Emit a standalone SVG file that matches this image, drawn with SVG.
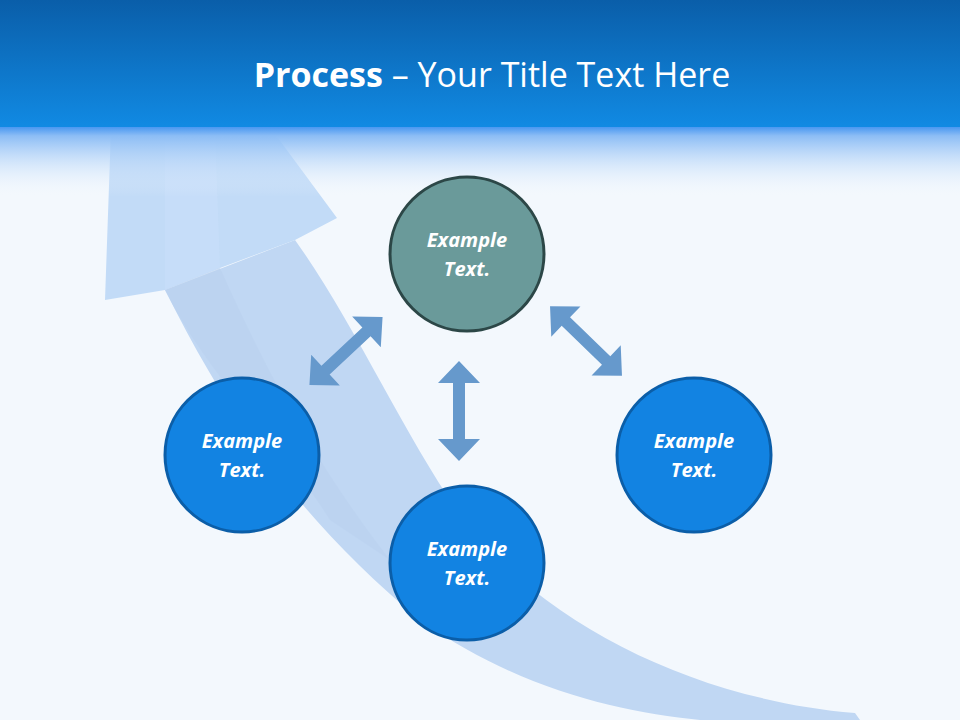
<svg xmlns="http://www.w3.org/2000/svg" width="960" height="720" viewBox="0 0 960 720">
<defs>
<linearGradient id="hdr" x1="0" y1="0" x2="0" y2="1">
<stop offset="0" stop-color="#0a5ea9"/><stop offset="1" stop-color="#118ae3"/>
</linearGradient>
<linearGradient id="fade" x1="0" y1="0" x2="0" y2="1">
<stop offset="0" stop-color="#3a8ff0"/><stop offset="0.15" stop-color="#8cbdf5"/><stop offset="1" stop-color="#f3f8fd" stop-opacity="0"/>
</linearGradient>
<path id="dbl" d="M-50,0 L-28,-21 L-28,-6 L28,-6 L28,-21 L50,0 L28,21 L28,6 L-28,6 L-28,21 Z"/>
<style>
.node circle{stroke-width:3}
.blue{fill:#1283e2;stroke:#0b5ea8}
.teal{fill:#6a9a9a;stroke:#2c4747}
.lbl{font-family:"Open Sans","Liberation Sans",sans-serif;font-weight:bold;font-style:italic;font-size:20px;fill:#fff;text-anchor:middle}
.conn use{fill:#6699cc}
</style>
</defs>
<rect width="960" height="720" fill="#f3f8fd"/>
<g id="bigarrow">
<path d="M165,290 C230,420 300,520 420,620 C520,690 620,712 700,720 L860,720 L855,713 C700,700 560,630 480,540 C420,470 360,330 295,240 Z" fill="#c0d7f3"/>
<path d="M105,300 L112,100 L250,100 L337,218 L295,240 L220,268 L165,290 Z" fill="#c2dbf7"/>
<path d="M165,130 L215,130 L220,268 L165,290 Z" fill="#c8defa" opacity="0.7"/>
<path d="M165,290 L220,268 C270,380 320,470 390,560 L330,520 C280,440 210,380 165,290 Z" fill="#b9d0ee" opacity="0.6"/>
</g>
<rect x="0" y="125" width="960" height="72" fill="url(#fade)"/>
<rect x="0" y="0" width="960" height="127" fill="url(#hdr)"/>
<text x="492" y="87" text-anchor="middle" font-family="'Open Sans','Liberation Sans',sans-serif" font-size="34" fill="#fff"><tspan font-weight="bold">Process</tspan> – Your Title Text Here</text>
<g id="connectors" class="conn">
<use href="#dbl" transform="translate(346,351) rotate(-43)"/>
<use href="#dbl" transform="translate(586,341) rotate(44)"/>
<use href="#dbl" transform="translate(459,411) rotate(90)"/>
</g>
<g id="n-top" class="node"><circle class="teal" cx="467" cy="254" r="77"/><text class="lbl" x="467" y="247">Example</text><text class="lbl" x="467" y="276">Text.</text></g>
<g id="n-left" class="node"><circle class="blue" cx="242" cy="455" r="77"/><text class="lbl" x="242" y="448">Example</text><text class="lbl" x="242" y="477">Text.</text></g>
<g id="n-right" class="node"><circle class="blue" cx="694" cy="455" r="77"/><text class="lbl" x="694" y="448">Example</text><text class="lbl" x="694" y="477">Text.</text></g>
<g id="n-bottom" class="node"><circle class="blue" cx="467" cy="563" r="77"/><text class="lbl" x="467" y="556">Example</text><text class="lbl" x="467" y="585">Text.</text></g>
</svg>
